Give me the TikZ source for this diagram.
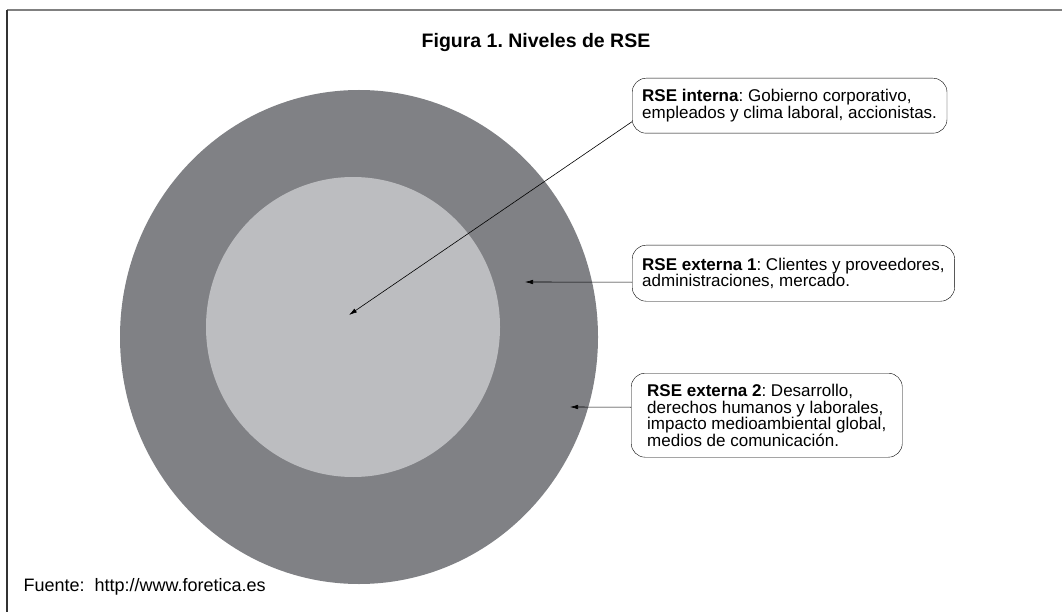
\documentclass[tikz,border=0pt]{standalone}
\usepackage{fontspec}
\setmainfont{Liberation Sans}
\usetikzlibrary{positioning,arrows.meta}
\definecolor{anillo}{RGB}{128,129,133}
\definecolor{nucleo}{RGB}{188,189,192}
\frenchspacing
\begin{document}
\begin{tikzpicture}[x=1pt, y=-1pt,
    caja/.style={draw, rounded corners=14pt, anchor=north west, align=left,
      inner xsep=10pt, font=\fontsize{17}{16.5}\selectfont},
    flecha/.style={-{Latex[length=8pt,width=4.5pt]}, semithick}]
  \useasboundingbox (0,0) rectangle (1062,612);
  % marco
  \draw [gray, line width=1.3pt] (7,10) -- (1062,10);
  \draw [black!80, line width=1.3pt] (7,10) -- (7,612);
  \node (titulo) at (536,43) {\fontsize{19.5}{22}\selectfont\bfseries Figura 1. Niveles de RSE};
  % niveles
  \fill [anillo] (359,337) ellipse [x radius=239, y radius=247];
  \fill [nucleo] (353,327) ellipse [x radius=147, y radius=150];
  \coordinate (centro) at (349,315);
  \coordinate (ext1) at (525,282);
  \coordinate (ext2) at (570,407);
  % cajas
  \node [caja, minimum height=55pt] (interna) at (632,78)
    {\textbf{RSE interna}: Gobierno corporativo,\\empleados y clima laboral, accionistas.};
  \node [caja, minimum height=56pt] (externa1) at (632,245)
    {\textbf{RSE externa 1}: Clientes y proveedores,\\administraciones, mercado.};
  \node [caja, inner xsep=16pt, minimum height=84pt] (externa2) at (631,373)
    {\textbf{RSE externa 2}: Desarrollo,\\derechos humanos y laborales,\\impacto medioambiental global,\\medios de comunicación.};
  \draw [flecha] ([yshift=-16pt]interna.west) -- (centro);
  \draw [flecha] ([yshift=-9pt]externa1.west) -- (ext1);
  \draw [flecha] ([yshift=8pt]externa2.west) -- (ext2);
  \node [anchor=west, font=\fontsize{18}{18}\selectfont] (fuente) at (20,587) {Fuente:\ \ http://www.foretica.es};
\end{tikzpicture}
\end{document}
